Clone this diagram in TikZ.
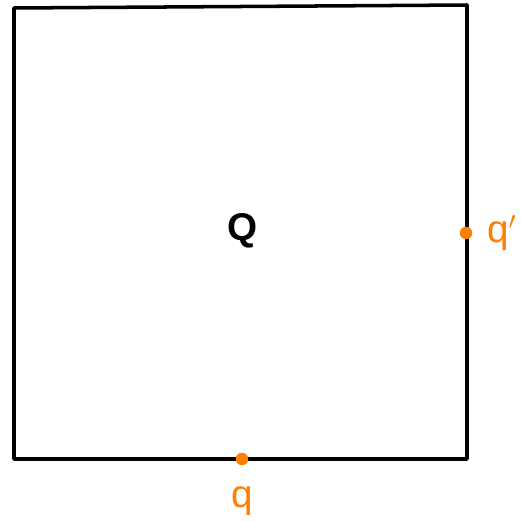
\documentclass[tikz,border=0pt]{standalone}
\usepackage{fontspec}
\setsansfont{Liberation Sans}
\usepackage{tikz}
\usetikzlibrary{positioning}
\definecolor{pointorange}{HTML}{FF8000}

\begin{document}
\begin{tikzpicture}[
  x=0.02cm, y=-0.02cm,
  edge/.style={line width=2pt, black, line join=round, line cap=round},
  point/.style={circle, fill=pointorange, inner sep=0pt, minimum size=2.5mm},
  ptlabel/.style={font=\sffamily\fontsize{22}{24}\selectfont, text=pointorange, inner sep=0pt},
  setlabel/.style={font=\sffamily\bfseries\fontsize{22}{24}\selectfont, inner sep=0pt}
]
  \useasboundingbox (0,0) rectangle (521,521);
  % corners of the square
  \coordinate (tl) at (14,8);
  \coordinate (tr) at (467,5);
  \coordinate (br) at (467,459);
  \coordinate (bl) at (14,459);
  \draw[edge] (tl) -- (tr) -- (br) -- (bl) -- cycle;

  \node[setlabel] (setQ) at (243,231) {Q};

  \node[point] (q) at (242,459) {};
  \node[ptlabel, below=12pt of q] (qlab) {q};
  \node[point] (qp) at (466,233) {};
  \node[ptlabel, right=8pt of qp] (qplab) {q$'$};
\end{tikzpicture}
\end{document}
